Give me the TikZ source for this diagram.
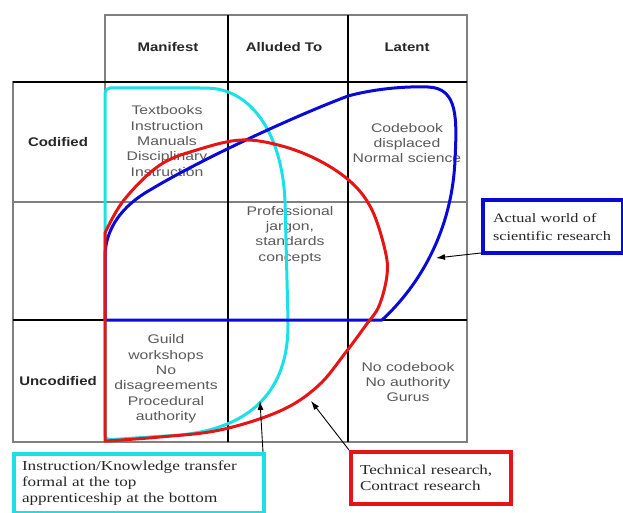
\documentclass[tikz,border=0pt]{standalone}
\usepackage{fontspec}
\usetikzlibrary{arrows.meta}
\newfontfamily\headfont[FakeStretch=1.2]{Liberation Sans}
\newfontfamily\cellfont[FakeStretch=1.26]{Liberation Sans}
\newfontfamily\boxfont[FakeStretch=1.25]{Liberation Serif}
\definecolor{curveblue}{RGB}{10,10,215}
\definecolor{curvecyan}{RGB}{25,225,230}
\definecolor{curvered}{RGB}{230,20,20}

\begin{document}
\begin{tikzpicture}[
  x = 1pt, y = -1pt,
  every node/.style = {inner sep = 0pt},
  head/.style = {
    font = \headfont\bfseries\fontsize{12.5}{15}\selectfont,
    text = black!85
  },
  cell/.style = {
    align = center, text = black!65,
    font = \cellfont\fontsize{12.5}{15.3}\selectfont
  },
  thin grid/.style = {draw = black!50, line width = 1.2pt},
  bold grid/.style = {draw = black, line width = 1.6pt},
  curve/.style = {line width = 3pt, line join = round},
  legend/.style = {
    draw, line width = 4pt, align = left, anchor = north west,
    text = black!85, inner ysep = 0pt,
    font = \boxfont\fontsize{13.7}{16}\selectfont
  },
  pointer/.style = {-{Latex[length = 9pt, width = 6pt]}, line width = 0.9pt}
]
  \useasboundingbox (0,0) rectangle (623,513);

  % Raster
  \draw[thin grid] (105,15) rectangle (467,82);
  \draw[thin grid] (13,82) rectangle (467,442);
  \draw[thin grid] (105,15) -- (105,442);
  \draw[thin grid] (13,202) -- (467,202);
  \draw[bold grid] (228,15) -- (228,442);
  \draw[bold grid] (348,15) -- (348,442);
  \draw[bold grid] (13,82) -- (467,82);
  \draw[bold grid] (13,320) -- (467,320);

  % Knoten
  \node[head] (manifest) at (168,47) {Manifest};
  \node[head] (alluded)  at (284,47) {Alluded To};
  \node[head] (latent)   at (407,47) {Latent};
  \node[head] (codified)   at (58,142) {Codified};
  \node[head] (uncodified) at (58,381) {Uncodified};

  \node[cell] (textbooks) at (167,141)
    {Textbooks\\Instruction\\Manuals\\Disciplinary\\Instruction};
  \node[cell] (codebook) at (407,143) {Codebook\\displaced\\Normal science};
  \node[cell] (jargon) at (290,235)
    {Professional\\jargon,\\standards\\concepts};
  \node[cell] (guild) at (166,379)
    {Guild\\workshops\\No\\disagreements\\Procedural\\authority};
  \node[cell] (gurus) at (408,382) {No codebook\\No authority\\Gurus};

  % Kurven
  \draw[curve, curvecyan, rounded corners = 5pt]
    (105,440) -- (105,88) -- (205,88)
    .. controls (248,90) and (280,128) .. (285,200) -- (288,320)
    .. controls (288,400) and (240,432) .. (165,436) -- cycle;
  \draw[curve, curveblue]
    (105,320) -- (382,320)
    .. controls (420,285) and (452,230) .. (455,160)
    .. controls (457,118) and (458,88) .. (428,87)
    .. controls (400,86) and (370,90) .. (348,96)
    .. controls (290,118) and (200,160) .. (150,190)
    .. controls (122,206) and (106,228) .. (105,255) -- cycle;
  \draw[curve, curvered]
    (105,441) -- plot[smooth, tension = 0.6] coordinates {
      (105,233) (124,200) (160,165) (200,149) (242,140) (282,146)
      (320,161) (352,183) (372,210) (385,250) (387,275) (379,306)
      (366,325) (346,352) (318,386) (280,411) (220,430) (160,437)
      (106,441)} -- cycle;

  \coordinate (blue tip) at (436,258);
  \coordinate (cyan tip) at (260,401);
  \coordinate (red tip)  at (311,401);

  % Legende
  \node[legend, draw = curveblue, minimum width = 140pt, minimum height = 53pt,
    text width = 120pt, inner xsep = 10pt,
    font = \boxfont\fontsize{13}{18}\selectfont]
    (actual) at (481,198) {Actual world of\\scientific research};
  \node[legend, draw = curvecyan, minimum width = 250pt, minimum height = 59pt,
    text width = 234pt, inner xsep = 8pt]
    (transfer) at (12,452)
    {Instruction/Knowledge transfer\\formal at the top\\apprenticeship at the bottom};
  \node[legend, draw = curvered, minimum width = 160pt, minimum height = 52pt,
    text width = 142pt, inner xsep = 9pt]
    (technical) at (349,450) {Technical research,\\Contract research};

  % Pfeile
  \draw[pointer] ([yshift = 2pt]actual.south west) -- (blue tip);
  \draw[pointer] ([xshift = -3pt]transfer.north east) -- (cyan tip);
  \draw[pointer] (technical.north west) -- (red tip);
\end{tikzpicture}
\end{document}
